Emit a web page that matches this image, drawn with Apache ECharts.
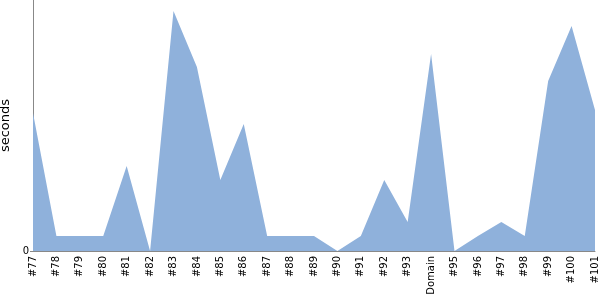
<!DOCTYPE html>
<html><head><meta charset="utf-8">
<script src="https://cdn.jsdelivr.net/npm/echarts@6/dist/echarts.min.js"></script>
<style>html,body{margin:0;padding:0;background:#fff}#c{width:600px;height:300px}</style>
</head><body><div id="c"></div>
<script>
const categories = ['#77','#78','#79','#80','#81','#82','#83','#84','#85','#86','#87','#88','#89','#90','#91','#92','#93','Domain','#95','#96','#97','#98','#99','#100','#101'];
const seconds = [138,15,15,15,85,0,240,184,71,127,15,15,15,0,15,71,29,197,0,15,29,15,170,225,141];
const yMax = 251;
const chart = echarts.init(document.getElementById('c'), null, {renderer:'canvas'});
chart.setOption({
  animation:false,
  grid:{left:33,right:5,top:0,bottom:49,containLabel:false,outerBoundsMode:'none'},
  xAxis:{type:'category',data:categories,boundaryGap:false,
    axisLine:{lineStyle:{color:'#888'}},axisTick:{show:false},
    axisLabel:{rotate:90,interval:0,color:'#000',fontFamily:'DejaVu Sans',fontSize:10,margin:5}},
  yAxis:{type:'value',min:0,max:yMax,interval:yMax,name:'seconds',nameLocation:'middle',nameGap:17,
    nameTextStyle:{color:'#000',fontFamily:'DejaVu Sans',fontSize:13},
    axisLine:{show:true,lineStyle:{color:'#888'}},axisTick:{show:true,length:3,lineStyle:{color:'#888'}},
    splitLine:{show:false},
    axisLabel:{showMaxLabel:false,color:'#000',fontFamily:'DejaVu Sans',fontSize:10,margin:4,
      formatter:v=>v===0?'0':''}},
  series:[{type:'line',data:seconds,symbol:'none',lineStyle:{width:0},
    areaStyle:{color:'#8fb1db',opacity:1}}]
});
</script></body></html>
